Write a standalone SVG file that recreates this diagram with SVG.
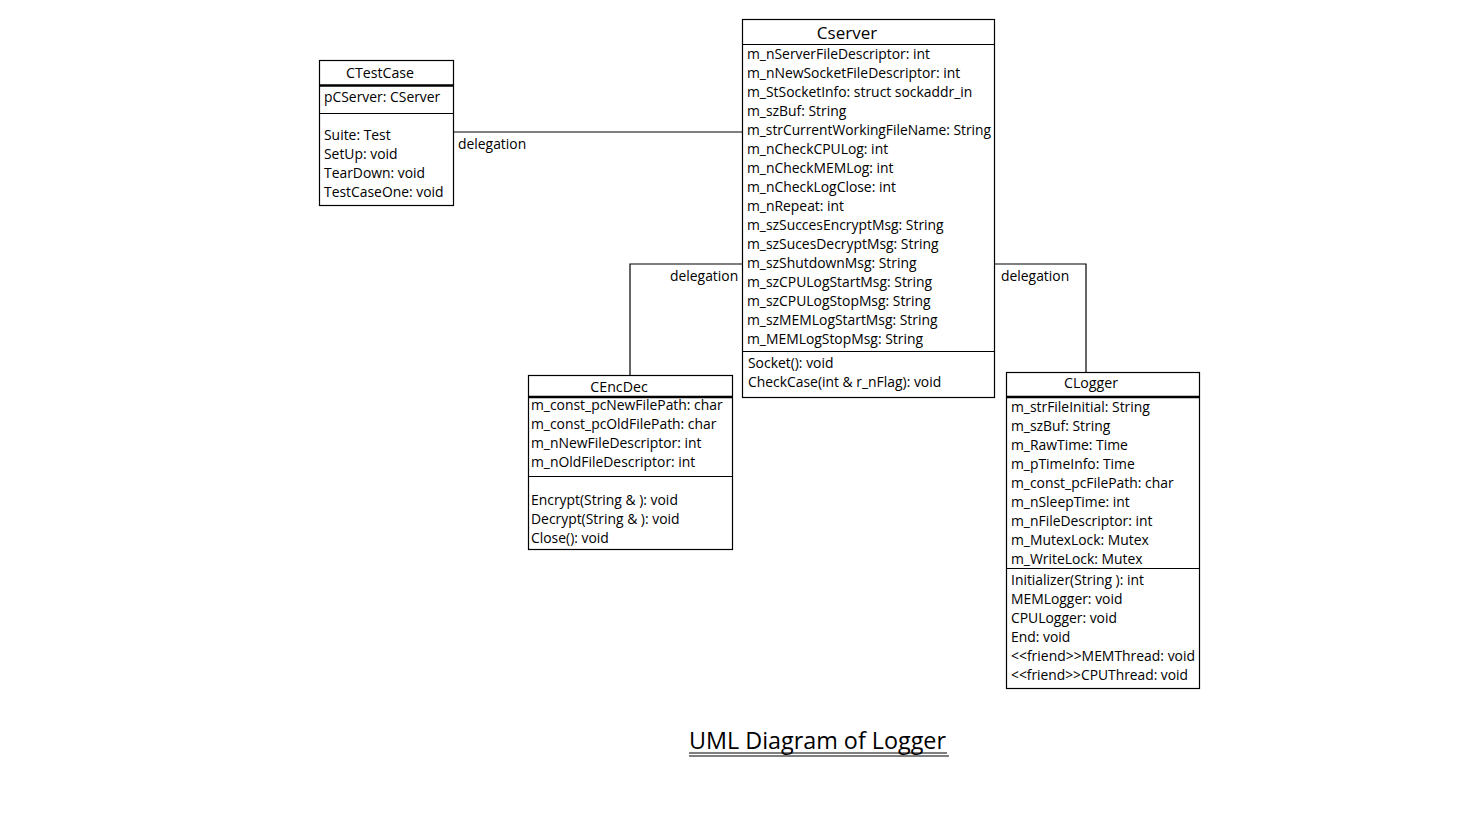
<svg xmlns="http://www.w3.org/2000/svg" width="1476" height="815" viewBox="0 0 1476 815">
<style>
.box{fill:#fff;stroke:#000;stroke-width:1.2}
.sep{stroke:#000;stroke-width:1.2}
.thick{stroke:#000;stroke-width:2.5}
.t{font-family:"Open Sans","Liberation Sans",sans-serif;font-size:13.9px;fill:#000}
.h{font-family:"Open Sans","Liberation Sans",sans-serif;font-size:14.2px;fill:#000;text-anchor:middle}
.c{fill:none;stroke:#000;stroke-width:1.2}
</style>
<rect width="1476" height="815" fill="#fff"/>
<g id="connectors">
<polyline class="c" points="453,132 742,132"/>
<polyline class="c" points="630,375 630,264 742,264"/>
<polyline class="c" points="994,264 1086,264 1086,372"/>
<text class="t" x="458" y="149">delegation</text>
<text class="t" x="670" y="281">delegation</text>
<text class="t" x="1001" y="281">delegation</text>
</g>
<g id="CTestCase">
<rect class="box" x="319.5" y="60.5" width="134" height="145"/>
<line class="thick" x1="319.5" y1="85.5" x2="453.5" y2="85.5"/>
<line class="sep" x1="319.5" y1="113.5" x2="453.5" y2="113.5"/>
<text class="h" x="380" y="78">CTestCase</text>
<text class="t" x="324" y="102">pCServer: CServer</text>
<text class="t" x="324" y="140">Suite: Test</text>
<text class="t" x="324" y="159">SetUp: void</text>
<text class="t" x="324" y="178">TearDown: void</text>
<text class="t" x="324" y="197">TestCaseOne: void</text>
</g>
<g id="Cserver">
<rect class="box" x="742.5" y="19.5" width="252" height="378"/>
<line class="sep" x1="742.5" y1="44.5" x2="994.5" y2="44.5"/>
<line class="sep" x1="742.5" y1="351.5" x2="994.5" y2="351.5"/>
<text class="h" x="847" y="39" style="font-size:17px">Cserver</text>
<text class="t" x="747" y="59">m_nServerFileDescriptor: int</text>
<text class="t" x="747" y="78">m_nNewSocketFileDescriptor: int</text>
<text class="t" x="747" y="97">m_StSocketInfo: struct sockaddr_in</text>
<text class="t" x="747" y="116">m_szBuf: String</text>
<text class="t" x="747" y="135" textLength="244" lengthAdjust="spacingAndGlyphs">m_strCurrentWorkingFileName: String</text>
<text class="t" x="747" y="154">m_nCheckCPULog: int</text>
<text class="t" x="747" y="173">m_nCheckMEMLog: int</text>
<text class="t" x="747" y="192">m_nCheckLogClose: int</text>
<text class="t" x="747" y="211">m_nRepeat: int</text>
<text class="t" x="747" y="230">m_szSuccesEncryptMsg: String</text>
<text class="t" x="747" y="249">m_szSucesDecryptMsg: String</text>
<text class="t" x="747" y="268">m_szShutdownMsg: String</text>
<text class="t" x="747" y="287">m_szCPULogStartMsg: String</text>
<text class="t" x="747" y="306">m_szCPULogStopMsg: String</text>
<text class="t" x="747" y="325">m_szMEMLogStartMsg: String</text>
<text class="t" x="747" y="344">m_MEMLogStopMsg: String</text>
<text class="t" x="748" y="368">Socket(): void</text>
<text class="t" x="748" y="387">CheckCase(int &amp; r_nFlag): void</text>
</g>
<g id="CEncDec">
<rect class="box" x="528.5" y="375.5" width="204" height="174"/>
<line class="thick" x1="528.5" y1="397" x2="732.5" y2="397"/>
<line class="sep" x1="528.5" y1="476.5" x2="732.5" y2="476.5"/>
<text class="h" x="619" y="392">CEncDec</text>
<text class="t" x="531" y="410">m_const_pcNewFilePath: char</text>
<text class="t" x="531" y="429">m_const_pcOldFilePath: char</text>
<text class="t" x="531" y="448">m_nNewFileDescriptor: int</text>
<text class="t" x="531" y="467">m_nOldFileDescriptor: int</text>
<text class="t" x="531" y="505">Encrypt(String &amp; ): void</text>
<text class="t" x="531" y="524">Decrypt(String &amp; ): void</text>
<text class="t" x="531" y="543">Close(): void</text>
</g>
<g id="CLogger">
<rect class="box" x="1006.5" y="372.5" width="193" height="316"/>
<line class="thick" x1="1006.5" y1="397" x2="1199.5" y2="397"/>
<line class="sep" x1="1006.5" y1="568.5" x2="1199.5" y2="568.5"/>
<text class="h" x="1091" y="388">CLogger</text>
<text class="t" x="1011" y="412">m_strFileInitial: String</text>
<text class="t" x="1011" y="431">m_szBuf: String</text>
<text class="t" x="1011" y="450">m_RawTime: Time</text>
<text class="t" x="1011" y="469">m_pTimeInfo: Time</text>
<text class="t" x="1011" y="488">m_const_pcFilePath: char</text>
<text class="t" x="1011" y="507">m_nSleepTime: int</text>
<text class="t" x="1011" y="526">m_nFileDescriptor: int</text>
<text class="t" x="1011" y="545">m_MutexLock: Mutex</text>
<text class="t" x="1011" y="564">m_WriteLock: Mutex</text>
<text class="t" x="1011" y="585">Initializer(String ): int</text>
<text class="t" x="1011" y="604">MEMLogger: void</text>
<text class="t" x="1011" y="623">CPULogger: void</text>
<text class="t" x="1011" y="642">End: void</text>
<text class="t" x="1011" y="661" textLength="184" lengthAdjust="spacingAndGlyphs">&lt;&lt;friend&gt;&gt;MEMThread: void</text>
<text class="t" x="1011" y="680" textLength="177" lengthAdjust="spacingAndGlyphs">&lt;&lt;friend&gt;&gt;CPUThread: void</text>
</g>
<g id="title">
<text x="689" y="749" style="font-family:'Open Sans','Liberation Sans',sans-serif;font-size:24px" textLength="257" lengthAdjust="spacingAndGlyphs">UML Diagram of Logger</text>
<line x1="689" y1="753" x2="947" y2="753" stroke="#000" stroke-width="1.2"/>
<line x1="689" y1="756" x2="949" y2="756" stroke="#000" stroke-width="1.2"/>
</g>
</svg>
